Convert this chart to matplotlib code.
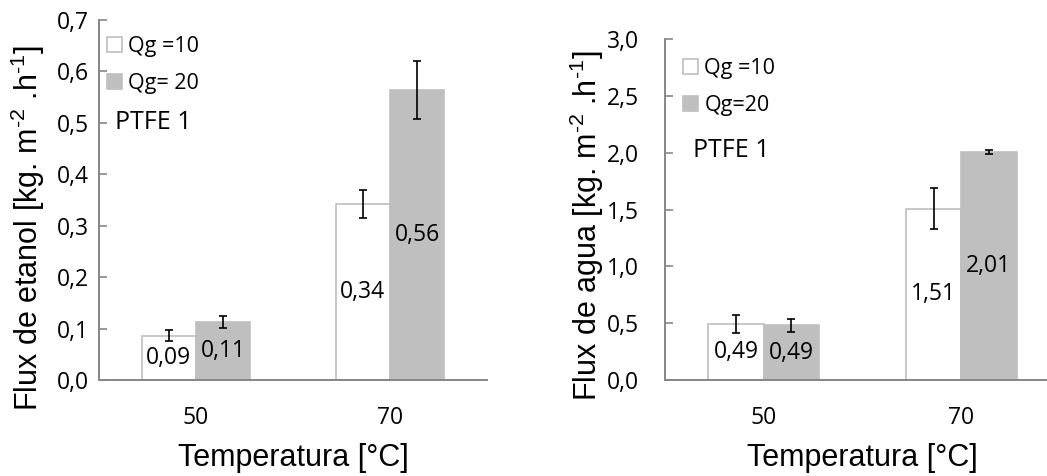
import numpy as np
import matplotlib
matplotlib.use("Agg")
import matplotlib.pyplot as plt
from matplotlib.patches import Patch

# data
temps = ["50", "70"]
labels_left = ["Qg =10", "Qg= 20"]
labels_right = ["Qg =10", "Qg=20"]

etanol_q10 = [0.086, 0.342]
etanol_q20 = [0.113, 0.564]
etanol_q10_err = [0.011, 0.027]
etanol_q20_err = [0.012, 0.057]
etanol_q10_txt = ["0,09", "0,34"]
etanol_q20_txt = ["0,11", "0,56"]

agua_q10 = [0.49, 1.51]
agua_q20 = [0.48, 2.007]
agua_q10_err = [0.08, 0.18]
agua_q20_err = [0.06, 0.02]
agua_q10_txt = ["0,49", "1,51"]
agua_q20_txt = ["0,49", "2,01"]

etanol_ticks = [0.0, 0.1, 0.2, 0.3, 0.4, 0.5, 0.6, 0.7]
agua_ticks = [0.0, 0.5, 1.0, 1.5, 2.0, 2.5, 3.0]

plt.rcParams['mathtext.fontset'] = 'custom'
plt.rcParams['mathtext.rm'] = 'Liberation Sans'
plt.rcParams['mathtext.default'] = 'regular'

small_font = 'Open Sans'
big_font = 'Liberation Sans'
gray = '#bfbfbf'
axis_gray = '#868686'

fig = plt.figure(figsize=(10.47, 4.76), dpi=100)
ax1 = fig.add_axes([99/1047, 96/476, 388/1047, 360/476])
ax2 = fig.add_axes([665/1047, 96/476, 395/1047, 340.7/476])


def draw_panel(ax, v10, v20, e10, e20, t10, t20, ticks, ylab, leg_labels,
               ylab_pos, ytick_pad, leg_anchor, ptfe_pos):
    x = np.arange(len(temps))
    w = 0.28
    ax.bar(x - w/2, v10, w, color='white', edgecolor=gray, linewidth=1.2,
           zorder=2)
    ax.bar(x + w/2, v20, w, color=gray, edgecolor=gray, linewidth=1.2,
           zorder=2)
    ax.errorbar(x - w/2, v10, yerr=e10, fmt='none', ecolor='black',
                elinewidth=1.2, capsize=3, capthick=1.2, zorder=3)
    ax.errorbar(x + w/2, v20, yerr=e20, fmt='none', ecolor='black',
                elinewidth=1.2, capsize=3, capthick=1.2, zorder=3)
    for i in range(len(x)):
        ax.text(x[i] - w/2, v10[i]/2, t10[i], ha='center', va='center',
                fontsize=16.5, family=small_font, zorder=4)
        ax.text(x[i] + w/2, v20[i]/2, t20[i], ha='center', va='center',
                fontsize=16.5, family=small_font, zorder=4)

    ax.set_xlim(-0.5, 1.5)
    ax.set_ylim(ticks[0], ticks[-1])
    ax.set_yticks(ticks)
    ax.set_yticklabels([('%.1f' % t).replace('.', ',') for t in ticks],
                       family=small_font, fontsize=16.5)
    ax.set_xticks(x)
    ax.set_xticklabels(temps, family=small_font, fontsize=16.5)
    ax.tick_params(axis='y', direction='in', length=6, width=1.2,
                   color=axis_gray, pad=ytick_pad)
    ax.tick_params(axis='x', length=0, pad=19)
    for s in ['top', 'right']:
        ax.spines[s].set_visible(False)
    for s in ['left', 'bottom']:
        ax.spines[s].set_color(axis_gray)
        ax.spines[s].set_linewidth(1.4)

    ax.set_xlabel('Temperatura [°C]', family=big_font, fontsize=22,
                  va='center')
    ax.xaxis.set_label_coords(0.5, -78 / ax.bbox.height)
    ax.set_ylabel(ylab, family=big_font, fontsize=22, va='center')
    ax.yaxis.set_label_coords(ylab_pos[0], ylab_pos[1])

    handles = [Patch(facecolor='white', edgecolor=gray, linewidth=1.2),
               Patch(facecolor=gray, edgecolor=gray, linewidth=1.2)]
    ax.legend(handles, leg_labels, loc='upper left', bbox_to_anchor=leg_anchor,
              frameon=False, prop={'family': small_font, 'size': 15.5},
              handlelength=0.7, handleheight=0.7, handletextpad=0.3,
              labelspacing=0.75, borderaxespad=0, borderpad=0)
    ax.text(ptfe_pos[0], ptfe_pos[1], 'PTFE 1', transform=ax.transAxes,
            family=small_font, fontsize=18, ha='left', va='center')


sup2 = '$^{\u20102}$'
sup1 = '$^{\u20101}$'
draw_panel(ax1, etanol_q10, etanol_q20, etanol_q10_err, etanol_q20_err,
           etanol_q10_txt, etanol_q20_txt, etanol_ticks,
           'Flux de etanol [kg. m' + sup2 + ' .h' + sup1 + ']', labels_left,
           (-0.183, 0.422), 7.5, (0.02, 0.955), (0.04, 0.715))
draw_panel(ax2, agua_q10, agua_q20, agua_q10_err, agua_q20_err,
           agua_q10_txt, agua_q20_txt, agua_ticks,
           'Flux de agua [kg. m' + sup2 + ' .h' + sup1 + ']', labels_right,
           (-0.197, 0.452), 19, (0.045, 0.945), (0.07, 0.675))

fig.savefig('out.png', dpi=100)
